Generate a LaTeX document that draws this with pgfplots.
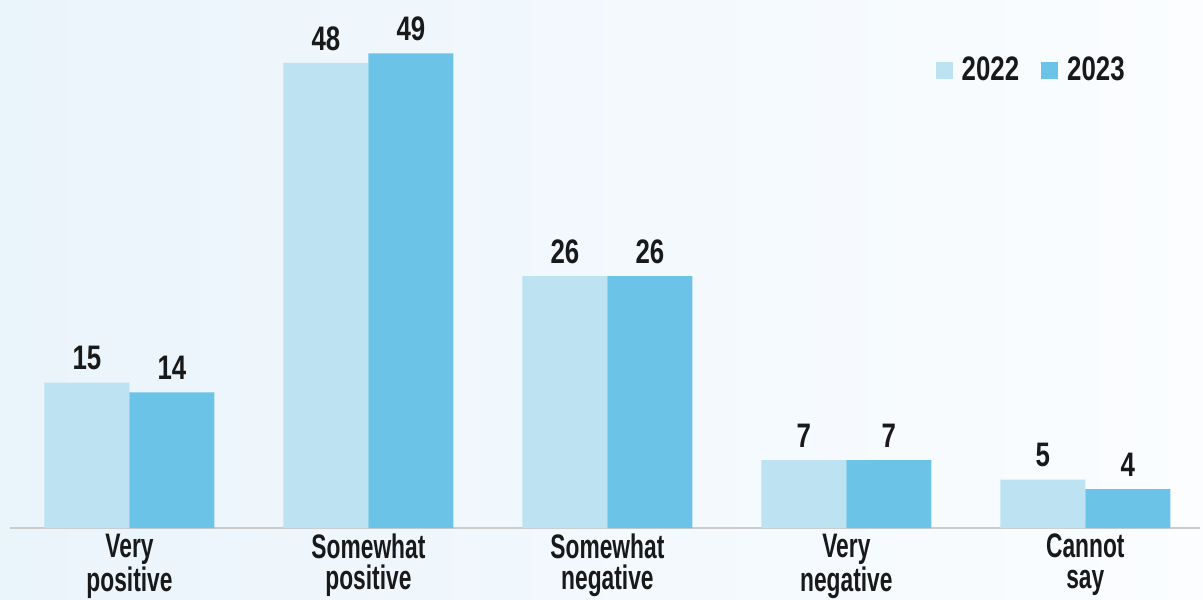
\documentclass[border=0pt]{standalone}
\usepackage{pgfplots}
\pgfplotsset{compat=1.18}
\usepackage{fontspec}
\setmainfont{Liberation Sans}[FakeStretch=0.67]
\newfontfamily\numfont{Liberation Sans}[FakeStretch=0.76]
\definecolor{c22}{HTML}{BDE3F3}
\definecolor{c23}{HTML}{6CC3E8}
\definecolor{bgL}{HTML}{EAF4FB}
\definecolor{bgR}{HTML}{FBFDFF}
\begin{document}
\begin{tikzpicture}
\shade[left color=bgL, right color=bgR] (0,0) rectangle (601.5pt,299.5pt);
\begin{axis}[
  at={(5pt,35.5pt)}, anchor=south west,
  scale only axis, width=595pt, height=264pt,
  xmin=-0.5, xmax=4.48, ymin=0, ymax=54.5,
  ybar=0pt, bar width=42.5pt,
  /pgf/number format/assume math mode=true,
  axis y line=none,
  axis x line*=bottom,
  x axis line style={draw=black!20, line width=1pt},
  xtick=data,
  xticklabels={{Very\\positive},{Somewhat\\positive},{Somewhat\\negative},{Very\\negative},{Cannot\\say}},
  xtick style={draw=none},
  xticklabel style={align=center, font=\fontsize{17}{15.5}\selectfont\bfseries, inner sep=0pt, yshift=1.5pt, text=black!90},
  nodes near coords,
  every node near coord/.append style={font=\numfont\fontsize{17}{17}\selectfont\bfseries, inner sep=0pt, yshift=6pt, text=black!90},
  legend style={at={(0.859,0.867)}, anchor=center, draw=none, fill=none, legend columns=2,
    font=\numfont\fontsize{17}{17}\selectfont\bfseries, text=black!90,
    /tikz/every even column/.append style={column sep=9pt}},
  legend image code/.code={\fill[#1] (0pt,-4.25pt) rectangle (8.5pt,4.25pt); \path (11pt,0pt);},
]
\addplot[fill=c22, draw=none] coordinates {(0,15) (1,48) (2,26) (3,7) (4,5)};
\addplot[fill=c23, draw=none] coordinates {(0,14) (1,49) (2,26) (3,7) (4,4)};
\legend{2022,2023}
\end{axis}
\pgfresetboundingbox
\useasboundingbox (0,0) rectangle (601.5pt,299.5pt);
\end{tikzpicture}
\end{document}
